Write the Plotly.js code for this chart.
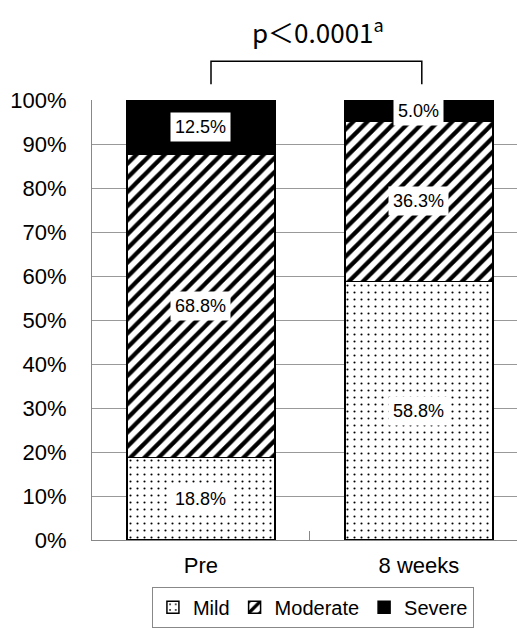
<!DOCTYPE html>
<html>
<head>
<meta charset="utf-8">
<script src="https://cdn.plot.ly/plotly-3.0.1.min.js"></script>
<style>html,body{margin:0;padding:0;background:#fff;}#chart{width:517px;height:628px;}</style>
</head>
<body>
<div id="chart"></div>
<script>
const categories = ['Pre', '8 weeks'];
const mild = [18.8, 58.8];
const moderate = [68.8, 36.3];
const severe = [12.5, 5.0];
const seriesNames = ['Mild', 'Moderate', 'Severe'];
const pLabel = 'p\uFF1C0.0001<sup>a</sup>';

const font = 'Liberation Sans, Arial, sans-serif';
const lineStyle = {color: '#000', width: 1.5};

const traces = [
  {type: 'bar', name: seriesNames[0], x: categories, y: mild, width: 0.68,
   marker: {color: '#fff', line: lineStyle, pattern: {shape: '.', size: 7, solidity: 0.07, fgcolor: '#000', bgcolor: '#fff', fillmode: 'replace'}},
   hoverinfo: 'none'},
  {type: 'bar', name: seriesNames[1], x: categories, y: moderate, width: 0.68,
   marker: {color: '#fff', line: lineStyle, pattern: {shape: '/', size: 10, solidity: 0.42, fgcolor: '#000', bgcolor: '#fff', fillmode: 'replace'}},
   hoverinfo: 'none'},
  {type: 'bar', name: seriesNames[2], x: categories, y: severe, width: 0.68,
   marker: {color: '#000', line: lineStyle},
   hoverinfo: 'none'}
];

// labels centred on each stacked segment
const annotations = [];
const series = [mild, moderate, severe];
categories.forEach((c, i) => {
  let base = 0;
  series.forEach(s => {
    const v = s[i];
    annotations.push({
      x: c, y: base + v / 2, xref: 'x', yref: 'y',
      text: v.toFixed(1) + '%', showarrow: false,
      font: {family: font, size: 18, color: '#000'},
      bgcolor: '#fff', borderpad: 4
    });
    base += v;
  });
});
annotations.push({
  x: 0.532, y: 1.158, xref: 'paper', yref: 'paper', xanchor: 'center', yanchor: 'middle',
  showarrow: false,
  text: pLabel, font: {family: 'Noto Sans CJK JP, sans-serif', size: 26, color: '#000'}
});

const layout = {
  width: 517, height: 628,
  margin: {l: 92, r: 0, t: 100, b: 84, pad: 0},
  paper_bgcolor: '#fff', plot_bgcolor: '#fff',
  barmode: 'stack',
  showlegend: true,
  legend: {
    orientation: 'h', x: 0.141, y: -0.106, xanchor: 'left', yanchor: 'top',
    traceorder: 'normal', bordercolor: '#888', borderwidth: 1, bgcolor: '#fff',
    font: {family: font, size: 20, color: '#000'}, itemwidth: 30
  },
  xaxis: {
    type: 'category', range: [-0.5, 1.45],
    showline: true, linecolor: '#888', linewidth: 1,
    tickson: 'boundaries', ticks: 'inside', ticklen: 9, tickcolor: '#888',
    showgrid: false, tickfont: {family: font, size: 22, color: '#000'},
    ticklabelstandoff: 6
  },
  yaxis: {
    range: [0, 100], dtick: 10, ticksuffix: '%',
    showline: true, linecolor: '#888', linewidth: 1,
    showgrid: true, gridcolor: '#999', gridwidth: 1,
    ticks: '', zeroline: false,
    tickfont: {family: font, size: 22, color: '#000'},
    ticklabelstandoff: 20
  },
  annotations: annotations,
  shapes: [{
    type: 'path', xref: 'paper', yref: 'paper',
    path: 'M0.28,1.036 L0.28,1.088 L0.776,1.088 L0.776,1.036',
    line: {color: '#000', width: 1.5}
  }]
};

Plotly.newPlot('chart', traces, layout, {staticPlot: true, displayModeBar: false});
</script>
</body>
</html>
